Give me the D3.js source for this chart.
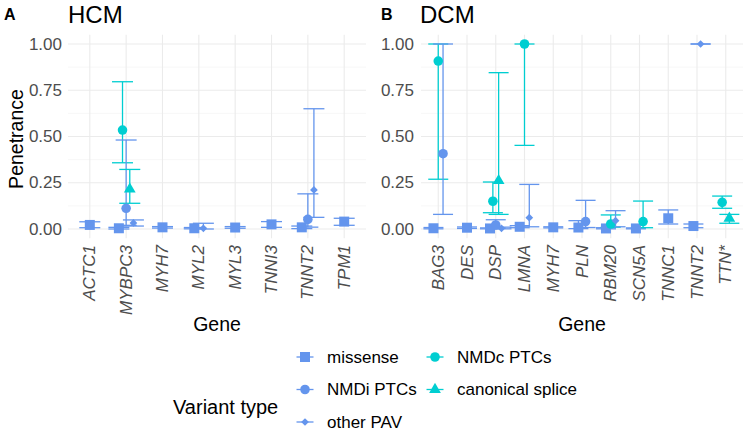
<!DOCTYPE html>
<html><head><meta charset="utf-8">
<script src="https://cdn.jsdelivr.net/npm/d3@7"></script>
<style>body{margin:0;background:#fff}svg{display:block}text{font-family:"Liberation Sans",Arial,sans-serif}</style>
</head><body><svg id="c" width="747" height="433"></svg>
<script>
const hcmGenes = ["ACTC1","MYBPC3","MYH7","MYL2","MYL3","TNNI3","TNNT2","TPM1"];
const dcmGenes = ["BAG3","DES","DSP","LMNA","MYH7","PLN","RBM20","SCN5A","TNNC1","TNNT2","TTN*"];
const variantTypes = ["missense","NMDc PTCs","NMDi PTCs","canonical splice","other PAV"];
const yTicks = [0, 0.25, 0.5, 0.75, 1.0];
const yMinor = [0.125, 0.375, 0.625, 0.875];
// [gene, type, estimate, lower, upper]
const hcmData = [
  ["ACTC1","missense",0.022,0.007,0.039],
  ["MYBPC3","missense",0.004,0.0,0.009],
  ["MYBPC3","NMDc PTCs",0.535,0.358,0.796],
  ["MYBPC3","NMDi PTCs",0.112,0.02,0.481],
  ["MYBPC3","canonical splice",0.215,0.139,0.322],
  ["MYBPC3","other PAV",0.033,0.016,0.049],
  ["MYH7","missense",0.009,0.005,0.013],
  ["MYL2","missense",0.004,0.001,0.008],
  ["MYL2","other PAV",0.004,0.0,0.031],
  ["MYL3","missense",0.008,0.004,0.013],
  ["TNNI3","missense",0.025,0.009,0.04],
  ["TNNT2","missense",0.009,0.002,0.016],
  ["TNNT2","NMDi PTCs",0.052,0.01,0.19],
  ["TNNT2","other PAV",0.211,0.063,0.65],
  ["TPM1","missense",0.04,0.02,0.058]
];
const dcmData = [
  ["BAG3","missense",0.004,0.001,0.008],
  ["BAG3","NMDc PTCs",0.908,0.269,1.0],
  ["BAG3","NMDi PTCs",0.407,0.079,1.0],
  ["DES","missense",0.007,0.003,0.011],
  ["DSP","missense",0.003,0.001,0.006],
  ["DSP","NMDc PTCs",0.15,0.088,0.254],
  ["DSP","NMDi PTCs",0.022,0.005,0.05],
  ["DSP","canonical splice",0.261,0.079,0.845],
  ["DSP","other PAV",0.004,0.001,0.01],
  ["LMNA","missense",0.012,0.007,0.018],
  ["LMNA","NMDc PTCs",1.0,0.452,1.0],
  ["LMNA","other PAV",0.061,0.012,0.241],
  ["MYH7","missense",0.009,0.006,0.012],
  ["PLN","missense",0.008,0.002,0.045],
  ["PLN","NMDi PTCs",0.04,0.008,0.155],
  ["RBM20","missense",0.003,0.001,0.007],
  ["RBM20","NMDc PTCs",0.027,0.01,0.076],
  ["RBM20","other PAV",0.045,0.012,0.099],
  ["SCN5A","missense",0.003,0.001,0.006],
  ["SCN5A","NMDc PTCs",0.04,0.007,0.151],
  ["TNNC1","missense",0.058,0.027,0.103],
  ["TNNT2","missense",0.016,0.007,0.027],
  ["TNNT2","other PAV",1.0,1.0,1.0],
  ["TTN*","NMDc PTCs",0.144,0.112,0.178],
  ["TTN*","canonical splice",0.058,0.031,0.079]
];

const colorMap = {"missense":"#6495ED","NMDi PTCs":"#6495ED","other PAV":"#6495ED","NMDc PTCs":"#00CED1","canonical splice":"#00CED1"};
const color = d3.scaleOrdinal().domain(variantTypes).range(variantTypes.map(t=>colorMap[t]));
function symbolPath(type){
  if(type==="missense") return d3.symbol(d3.symbolSquare,100)();
  if(type==="NMDc PTCs"||type==="NMDi PTCs") return d3.symbol(d3.symbolCircle,72)();
  if(type==="canonical splice") return d3.symbol(d3.symbolTriangle,60)();
  return d3.symbol(d3.symbolSquare,30)();
}
const svg = d3.select("#c");
const plotTop=34.75, plotBottom=238.25;
const y = d3.scaleLinear().domain([-0.05,1.05]).range([plotBottom,plotTop]);

function panel(opts){
  const {genes,data,x0,x1,letter,title,letterX,titleX,yLabX,cap} = opts;
  const x = d3.scalePoint().domain(genes).range([x0,x1]).padding(0.6);
  const step = x.step();
  const dodgeW = 0.5*step;
  const g = svg.append("g");
  g.selectAll(".mn").data(yMinor).join("line").attr("x1",x0).attr("x2",x1)
    .attr("y1",d=>y(d)).attr("y2",d=>y(d)).attr("stroke","#f2f2f2").attr("stroke-width",0.6);
  g.selectAll(".mj").data(yTicks).join("line").attr("x1",x0).attr("x2",x1)
    .attr("y1",d=>y(d)).attr("y2",d=>y(d)).attr("stroke","#ebebeb").attr("stroke-width",1.1);
  g.selectAll(".vx").data(genes).join("line").attr("x1",d=>x(d)).attr("x2",d=>x(d))
    .attr("y1",plotTop).attr("y2",plotBottom).attr("stroke","#ebebeb").attr("stroke-width",1.1);
  g.selectAll(".yl").data(yTicks).join("text").attr("x",yLabX).attr("y",d=>y(d))
    .attr("text-anchor","end").attr("dominant-baseline","central").attr("font-size",17)
    .attr("fill","#4d4d4d").text(d=>d.toFixed(2));
  g.selectAll(".xl").data(genes).join("text")
    .attr("transform",d=>`translate(${x(d)},245) rotate(-90)`)
    .attr("text-anchor","end").attr("dominant-baseline","central").attr("font-size",17)
    .attr("font-style","italic").attr("fill","#4d4d4d").text(d=>d);
  svg.append("text").attr("x",letterX).attr("y",20).attr("font-size",16).attr("font-weight","bold").text(letter);
  svg.append("text").attr("x",titleX).attr("y",23).attr("font-size",24).text(title);
  svg.append("text").attr("x",(x0+x1)/2).attr("y",331).attr("text-anchor","middle").attr("font-size",19.5).text("Gene");
  const rows = data.map(r=>({gene:r[0],type:r[1],est:r[2],lo:r[3],hi:r[4]}));
  genes.forEach(gn=>{
    const grp = rows.filter(r=>r.gene===gn).sort((a,b)=>variantTypes.indexOf(a.type)-variantTypes.indexOf(b.type));
    const n = grp.length;
    grp.forEach((r,i)=>{ r.px = x(gn) + dodgeW*((i+0.5)/n - 0.5); });
  });
  const eb = g.selectAll(".eb").data(rows).join("g").attr("stroke",d=>color(d.type)).attr("stroke-width",1.3).attr("fill","none");
  eb.append("line").attr("x1",d=>d.px).attr("x2",d=>d.px).attr("y1",d=>y(d.lo)).attr("y2",d=>y(d.hi));
  eb.append("line").attr("x1",d=>d.px-cap/2).attr("x2",d=>d.px+cap/2).attr("y1",d=>y(d.lo)).attr("y2",d=>y(d.lo));
  eb.append("line").attr("x1",d=>d.px-cap/2).attr("x2",d=>d.px+cap/2).attr("y1",d=>y(d.hi)).attr("y2",d=>y(d.hi));
  g.selectAll(".pt").data(rows).join("path").attr("d",d=>symbolPath(d.type))
    .attr("transform",d=>`translate(${d.px},${y(d.est)})`+(d.type==="other PAV"?" rotate(45)":""))
    .attr("fill",d=>color(d.type));
}
panel({genes:hcmGenes,data:hcmData,x0:68,x1:366,letter:"A",title:"HCM",letterX:4,titleX:68,yLabX:62,cap:21});
panel({genes:dcmGenes,data:dcmData,x0:421,x1:743,letter:"B",title:"DCM",letterX:381,titleX:420,yLabX:414,cap:20});

svg.append("text").attr("x",16).attr("y",139).attr("transform","rotate(-90,16,139)")
  .attr("text-anchor","middle").attr("dominant-baseline","central").attr("font-size",19.5).text("Penetrance");

const leg = svg.append("g");
leg.append("text").attr("x",173).attr("y",407).attr("dominant-baseline","central").attr("font-size",20).text("Variant type");
const legPos = [
  {t:"missense",x:305,y:357},{t:"NMDi PTCs",x:305,y:389.5},{t:"other PAV",x:305,y:422},
  {t:"NMDc PTCs",x:435,y:357},{t:"canonical splice",x:435,y:389.5}
];
legPos.forEach(p=>{
  const k = leg.append("g");
  k.append("line").attr("x1",p.x-8.5).attr("x2",p.x+8.5).attr("y1",p.y).attr("y2",p.y)
    .attr("stroke",color(p.t)).attr("stroke-width",1.3);
  k.append("path").attr("d",symbolPath(p.t)).attr("fill",color(p.t))
    .attr("transform",`translate(${p.x},${p.y})`+(p.t==="other PAV"?" rotate(45)":""));
  leg.append("text").attr("x",p.x+22).attr("y",p.y).attr("dominant-baseline","central").attr("font-size",17).text(p.t);
});
</script></body></html>
